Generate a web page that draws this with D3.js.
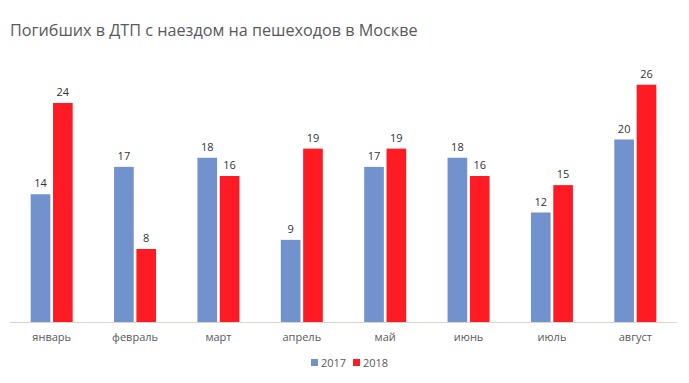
<!DOCTYPE html>
<html>
<head>
<meta charset="utf-8">
<script src="https://cdn.jsdelivr.net/npm/d3@7/dist/d3.min.js"></script>
<style>
  body { margin: 0; background: #fff; }
  svg { display: block; font-family: "Open Sans", "Noto Sans", sans-serif; }
</style>
</head>
<body>
<div id="chart"></div>
<script>
const months = ["январь", "февраль", "март", "апрель", "май", "июнь", "июль", "август"];
const years = ["2017", "2018"];
const values2017 = [14, 17, 18, 9, 17, 18, 12, 20];
const values2018 = [24, 8, 16, 19, 19, 16, 15, 26];
const colours = ["#7192cc", "#fe1b24"];

const w = 689;
const h = 383;
const left = 10;
const right = 677;
const baseY = 322;
const unit = 9.125;

const svg = d3.select("#chart").append("svg").attr("width", w).attr("height", h);

svg.append("text")
  .attr("x", 10)
  .attr("y", 36)
  .attr("fill", "#595959")
  .style("font-size", "16.2px")
  .text("Погибших в ДТП с наездом на пешеходов в Москве");

const x0 = d3.scaleBand().domain(months).range([left, right]).padding(0);
const bw = x0.bandwidth();
const x1 = d3.scaleBand().domain(years).range([bw / 2 - 21, bw / 2 + 21]).paddingInner(0.12);

const y = d3.scaleLinear().domain([0, 26]).range([baseY, baseY - 26 * unit]);

const series = [values2017, values2018];

const groups = svg.selectAll("g.month")
  .data(months)
  .enter()
  .append("g")
  .attr("class", "month")
  .attr("transform", (d) => `translate(${x0(d)},0)`);

groups.selectAll("rect")
  .data((d, i) => years.map((yr, j) => ({ yr, v: series[j][i] })))
  .enter()
  .append("rect")
  .attr("x", (d) => x1(d.yr))
  .attr("y", (d) => y(d.v))
  .attr("width", x1.bandwidth())
  .attr("height", (d) => baseY - y(d.v))
  .attr("fill", (d, j) => colours[j]);

groups.selectAll("text.val")
  .data((d, i) => years.map((yr, j) => ({ yr, v: series[j][i] })))
  .enter()
  .append("text")
  .attr("class", "val")
  .attr("x", (d) => x1(d.yr) + x1.bandwidth() / 2)
  .attr("y", (d) => y(d.v) - 7)
  .attr("text-anchor", "middle")
  .attr("fill", "#333333")
  .style("font-size", "11px")
  .text((d) => d.v);

svg.append("line")
  .attr("x1", left)
  .attr("x2", right)
  .attr("y1", baseY + 0.5)
  .attr("y2", baseY + 0.5)
  .attr("stroke", "#d9d5c9")
  .attr("stroke-width", 1);

groups.append("text")
  .attr("x", bw / 2)
  .attr("y", 341)
  .attr("text-anchor", "middle")
  .attr("fill", "#595959")
  .style("font-size", "11px")
  .text((d) => d);

const legend = svg.append("g").attr("transform", "translate(311,363)");
const legendX = [0, 42];
years.forEach((yr, j) => {
  legend.append("rect")
    .attr("x", legendX[j])
    .attr("y", -4)
    .attr("width", 7)
    .attr("height", 7)
    .attr("fill", colours[j]);
  legend.append("text")
    .attr("x", legendX[j] + 10)
    .attr("y", 4)
    .attr("fill", "#595959")
    .style("font-size", "11px")
    .text(yr);
});
</script>
</body>
</html>
